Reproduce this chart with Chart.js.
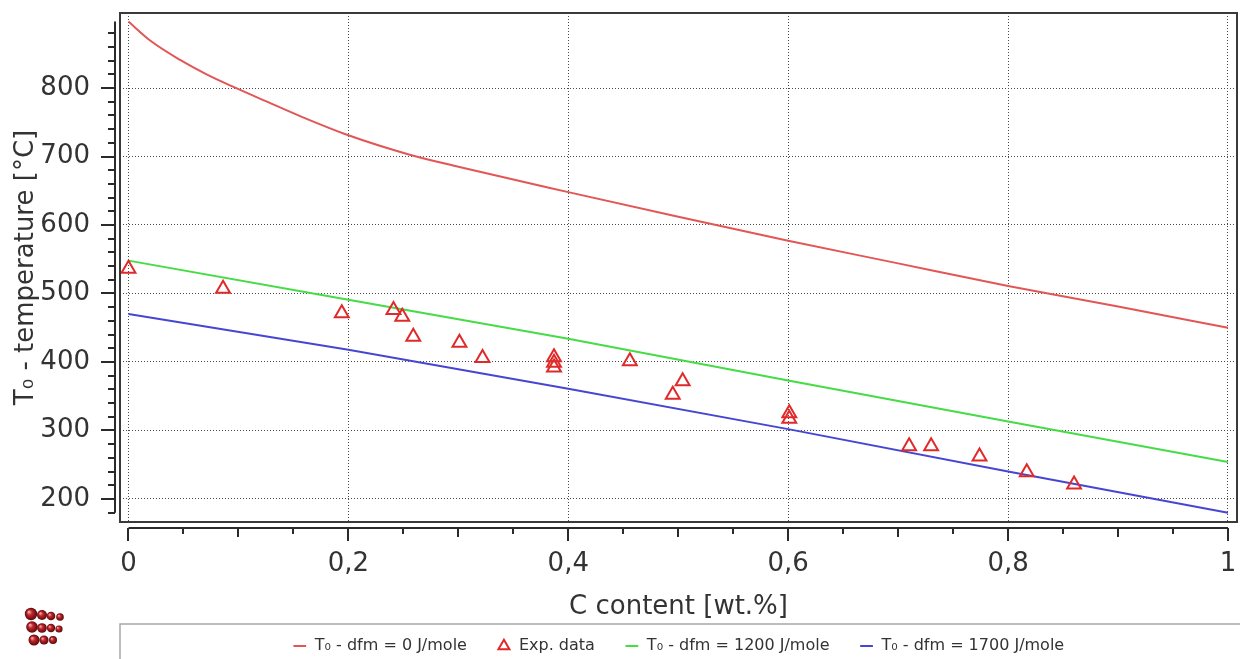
<!DOCTYPE html>
<html><head><meta charset="utf-8">
<script src="https://cdn.jsdelivr.net/npm/chart.js@4.4.1/dist/chart.umd.min.js"></script>
<style>html,body{margin:0;padding:0;background:#fff;overflow:hidden}#wrap{width:1240px;height:659px}</style>
</head><body><div id="wrap"><canvas id="c" width="1240" height="659"></canvas></div>
<script>
// ---- data ----
const xTickValues = [0, 0.2, 0.4, 0.6, 0.8, 1];
const yTickValues = [200, 300, 400, 500, 600, 700, 800];
const seriesLabels = ['T₀ - dfm = 0 J/mole', 'Exp. data', 'T₀ - dfm = 1200 J/mole', 'T₀ - dfm = 1700 J/mole'];
const xTitle = 'C content [wt.%]';
const yTitle = 'T₀ - temperature [°C]';
const redC = [0, 0.02, 0.047, 0.071, 0.095, 0.126, 0.156, 0.2, 0.255, 0.3, 0.4, 0.5, 0.6, 0.7, 0.8, 0.9, 1.0];
const redT = [897, 869, 841, 820, 802, 780, 759, 731, 703, 685, 648, 612, 577, 544, 511, 481, 450];
const lineC = [0, 0.2, 0.4, 0.6, 0.8, 1.0];
const greenT = [548, 491, 434, 373, 313, 254];
const blueT = [470, 418, 361, 302, 240, 180];
const expC = [0, 0.086, 0.194, 0.241, 0.249, 0.259, 0.301, 0.322, 0.387, 0.387, 0.387, 0.456, 0.504, 0.495, 0.601, 0.601, 0.710, 0.730, 0.774, 0.817, 0.860];
const expT = [536, 507, 471, 476, 466, 437, 428, 406, 407, 399, 392, 401, 372, 352, 325, 317, 277, 277, 262, 239, 221];
const yAxisSpan = [180, 897];

const FONT = "'DejaVu Sans', sans-serif";
const pts = (xs, ys) => xs.map((c, i) => ({x: c, y: ys[i]}));

const decor = {
  id: 'decor',
  afterDraw(chart) {
    const {ctx, chartArea: a, scales: {x, y}} = chart;
    ctx.save();
    // frame
    ctx.strokeStyle = '#3a3a3a'; ctx.lineWidth = 2;
    ctx.strokeRect(a.left, a.top, a.right - a.left, a.bottom - a.top);
    // detached y axis
    const ax = a.left - 5;
    ctx.strokeStyle = '#2a2a2a'; ctx.lineWidth = 2;
    ctx.beginPath();
    ctx.moveTo(ax, y.getPixelForValue(yAxisSpan[1]));
    ctx.lineTo(ax, y.getPixelForValue(yAxisSpan[0]));
    ctx.stroke();
    for (let v = 180; v <= 880; v += 20) {
      const p = Math.round(y.getPixelForValue(v));
      const len = v % 100 === 0 ? 14 : 7;
      ctx.beginPath(); ctx.moveTo(ax, p); ctx.lineTo(ax - len, p); ctx.stroke();
    }
    // detached x axis
    const ay = a.bottom + 6;
    ctx.beginPath();
    ctx.moveTo(x.getPixelForValue(0), ay);
    ctx.lineTo(x.getPixelForValue(1), ay);
    ctx.stroke();
    for (let i = 0; i <= 20; i++) {
      const p = Math.round(x.getPixelForValue(i * 0.05));
      const len = i % 4 === 0 ? 13 : (i % 2 === 0 ? 9 : 6);
      ctx.beginPath(); ctx.moveTo(p, ay); ctx.lineTo(p, ay + len); ctx.stroke();
    }
    // legend frame
    ctx.strokeStyle = '#a8a8a8'; ctx.lineWidth = 1.5;
    ctx.strokeRect(a.left, 624, 1240, 60);
    // logo spheres
    const balls = [
      [31,614,6.2],[42,615,5],[51,616,4.3],[60,617,3.8],
      [32,627,5.8],[42,628,4.8],[51,628,4.2],[59,629,3.6],
      [34,640,5.5],[44,640,4.6],[53,640,4]
    ];
    balls.forEach(([bx, by, r]) => {
      const g = ctx.createRadialGradient(bx - r*0.35, by - r*0.35, r*0.1, bx, by, r);
      g.addColorStop(0, '#f3a0a0'); g.addColorStop(0.35, '#c0282c'); g.addColorStop(1, '#5a0608');
      ctx.fillStyle = g;
      ctx.beginPath(); ctx.arc(bx, by, r, 0, Math.PI * 2); ctx.fill();
    });
    ctx.restore();
  }
};

const fmtX = v => String(Number(Number(v).toFixed(2))).replace('.', ',');
const noPad = s => { s.paddingTop = 0; s.paddingBottom = 0; s.paddingLeft = 0; s.paddingRight = 0; };

new Chart(document.getElementById('c'), {
  type: 'scatter',
  data: {
    datasets: [
      {label: seriesLabels[0], data: pts(redC, redT), showLine: true, borderColor: '#e25656', backgroundColor: '#e25656', borderWidth: 2, pointRadius: 0, pointStyle: 'line', cubicInterpolationMode: 'monotone'},
      {label: seriesLabels[1], data: pts(expC, expT), showLine: false, borderColor: '#e02a2a', backgroundColor: 'rgba(255,255,255,0)', pointStyle: 'triangle', pointRadius: 8, pointBorderWidth: 2, borderWidth: 2},
      {label: seriesLabels[2], data: pts(lineC, greenT), showLine: true, borderColor: '#45dc45', backgroundColor: '#45dc45', borderWidth: 2, pointRadius: 0, pointStyle: 'line'},
      {label: seriesLabels[3], data: pts(lineC, blueT), showLine: true, borderColor: '#4646d2', backgroundColor: '#4646d2', borderWidth: 2, pointRadius: 0, pointStyle: 'line'}
    ]
  },
  options: {
    responsive: false,
    devicePixelRatio: 1,
    animation: false,
    layout: {autoPadding: false, padding: {top: 13, right: 3, left: 0, bottom: -5}},
    plugins: {
      tooltip: {enabled: false},
      legend: {
        position: 'bottom', fullSize: false,
        labels: {usePointStyle: true, boxWidth: 14, boxHeight: 9, padding: 30, color: '#333', font: {family: FONT, size: 16}}
      }
    },
    scales: {
      x: {
        type: 'linear', min: -0.00773, max: 1.00819,
        afterBuildTicks: s => { s.ticks = xTickValues.map(v => ({value: v})); },
        afterFit: s => { s.height = 86; noPad(s); },
        grid: {color: '#4a4a4a', lineWidth: 1, drawTicks: false},
        border: {display: false, dash: [1, 2]},
        ticks: {padding: 27, color: '#333', font: {family: FONT, size: 26}, maxRotation: 0, autoSkip: false, callback: v => fmtX(v)},
        title: {display: true, text: xTitle, color: '#333', font: {family: FONT, size: 26}, padding: {top: 0, bottom: -14.6}}
      },
      y: {
        type: 'linear', min: 166.4, max: 909.5,
        afterBuildTicks: s => { s.ticks = yTickValues.map(v => ({value: v})); },
        afterFit: s => { s.width = 120; noPad(s); },
        grid: {color: '#4a4a4a', lineWidth: 1, drawTicks: false},
        border: {display: false, dash: [1, 2]},
        ticks: {padding: 30, color: '#333', font: {family: FONT, size: 26}, autoSkip: false, callback: v => String(v)},
        title: {display: true, text: yTitle, color: '#333', font: {family: FONT, size: 26}, padding: {top: 11, bottom: 0}}
      }
    }
  },
  plugins: [decor]
});
</script>
</body></html>
